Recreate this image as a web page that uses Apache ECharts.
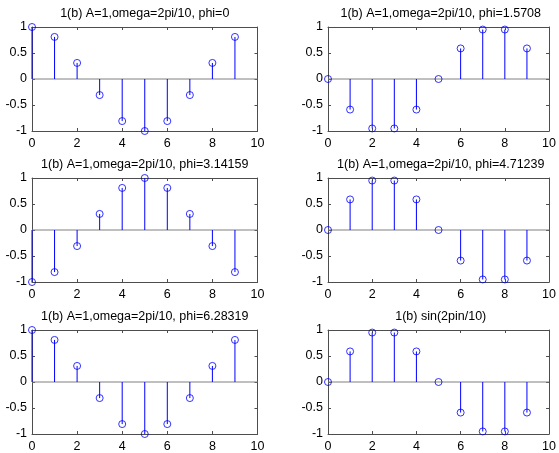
<!DOCTYPE html>
<html>
<head>
<meta charset="utf-8">
<script src="https://cdn.jsdelivr.net/npm/echarts@6/dist/echarts.min.js"></script>
<style>
html,body{margin:0;padding:0;background:#fff;}
#main{width:559px;height:453px;}
</style>
</head>
<body>
<div id="main"></div>
<script>
// sample index n
var nValues = [0, 1, 2, 3, 4, 5, 6, 7, 8, 9];
// series values
var phi0 = [1, 0.809, 0.309, -0.309, -0.809, -1, -0.809, -0.309, 0.309, 0.809];
var phi15708 = [0, -0.588, -0.951, -0.951, -0.588, 0, 0.588, 0.951, 0.951, 0.588];
var phi314159 = [-1, -0.809, -0.309, 0.309, 0.809, 1, 0.809, 0.309, -0.309, -0.809];
var phi471239 = [0, 0.588, 0.951, 0.951, 0.588, 0, -0.588, -0.951, -0.951, -0.588];
var phi628319 = [1, 0.809, 0.309, -0.309, -0.809, -1, -0.809, -0.309, 0.309, 0.809];
var sinVals = [0, 0.588, 0.951, 0.951, 0.588, 0, -0.588, -0.951, -0.951, -0.588];
var titles = [
  "1(b) A=1,omega=2pi/10, phi=0",
  "1(b) A=1,omega=2pi/10, phi=1.5708",
  "1(b) A=1,omega=2pi/10, phi=3.14159",
  "1(b) A=1,omega=2pi/10, phi=4.71239",
  "1(b) A=1,omega=2pi/10, phi=6.28319",
  "1(b) sin(2pin/10)"
];
var panelData = [phi0, phi15708, phi314159, phi471239, phi628319, sinVals];
var xTickLabels = ["0", "2", "4", "6", "8", "10"];
var yTickLabels = ["-1", "-0.5", "0", "0.5", "1"];

var FONT = "Liberation Sans, Arial, sans-serif";
var FS = 12.5;
var lefts = [32, 328];
var tops = [27, 178, 330];
var W = 225.5, H = 104;
var BOX = '#4d4d4d';
var BLUE = '#0000ff';

var option = {
  backgroundColor: '#fff',
  animation: false,
  title: [], grid: [], xAxis: [], yAxis: [], series: []
};

for (var i = 0; i < 6; i++) {
  var col = i % 2, row = Math.floor(i / 2);
  var L = lefts[col], T = tops[row];
  option.title.push({
    text: titles[i],
    left: L + W / 2, top: T - 20, padding: 0,
    textAlign: 'center',
    textStyle: {fontSize: FS, fontWeight: 'normal', color: '#000', fontFamily: FONT}
  });
  option.grid.push({left: L, top: T, width: W, height: H, show: false, containLabel: false});
  var tickStyle = {show: true, inside: true, length: 3, lineStyle: {color: BOX, width: 1}};
  // bottom x
  option.xAxis.push({
    type: 'value', gridIndex: i, min: 0, max: 10, interval: 2, position: 'bottom',
    axisLine: {show: true, onZero: false, lineStyle: {color: BOX, width: 1}},
    axisTick: tickStyle, splitLine: {show: false},
    axisLabel: {show: true, margin: 6, color: '#000', fontSize: FS, fontFamily: FONT,
      formatter: function (v) { return xTickLabels[Math.round(v / 2)]; }}
  });
  // top x (mirror)
  option.xAxis.push({
    type: 'value', gridIndex: i, min: 0, max: 10, interval: 2, position: 'top',
    axisLine: {show: true, onZero: false, lineStyle: {color: BOX, width: 1}},
    axisTick: tickStyle, splitLine: {show: false}, axisLabel: {show: false}
  });
  // left y
  option.yAxis.push({
    type: 'value', gridIndex: i, min: -1, max: 1, interval: 0.5, position: 'left',
    axisLine: {show: true, onZero: false, lineStyle: {color: BOX, width: 1}},
    axisTick: tickStyle, splitLine: {show: false},
    axisLabel: {show: true, margin: 5, color: '#000', fontSize: FS, fontFamily: FONT,
      formatter: function (v) { return yTickLabels[Math.round((v + 1) / 0.5)]; }}
  });
  // right y (mirror)
  option.yAxis.push({
    type: 'value', gridIndex: i, min: -1, max: 1, interval: 0.5, position: 'right',
    axisLine: {show: true, onZero: false, lineStyle: {color: BOX, width: 1}},
    axisTick: tickStyle, splitLine: {show: false}, axisLabel: {show: false}
  });
  var pts = nValues.map(function (n, k) { return [n, panelData[i][k]]; });
  // baseline at zero across the full x range
  option.series.push({
    type: 'line', xAxisIndex: 2 * i, yAxisIndex: 2 * i,
    data: [[0, 0], [10, 0]], symbol: 'none', silent: true,
    lineStyle: {color: '#808080', width: 1}, z: 1
  });
  // stems
  option.series.push({
    type: 'custom', xAxisIndex: 2 * i, yAxisIndex: 2 * i, data: pts, z: 2,
    renderItem: function (params, api) {
      var p0 = api.coord([api.value(0), 0]);
      var p1 = api.coord([api.value(0), api.value(1)]);
      return {type: 'line', shape: {x1: p0[0], y1: p0[1], x2: p1[0], y2: p1[1]},
        style: {stroke: BLUE, lineWidth: 1}};
    }
  });
  // markers
  option.series.push({
    type: 'scatter', xAxisIndex: 2 * i, yAxisIndex: 2 * i, data: pts, z: 3,
    symbol: 'circle', symbolSize: 7,
    itemStyle: {color: 'rgba(0,0,0,0)', borderColor: BLUE, borderWidth: 1}
  });
}

var chart = echarts.init(document.getElementById('main'), null, {renderer: 'canvas'});
chart.setOption(option);
</script>
</body>
</html>
